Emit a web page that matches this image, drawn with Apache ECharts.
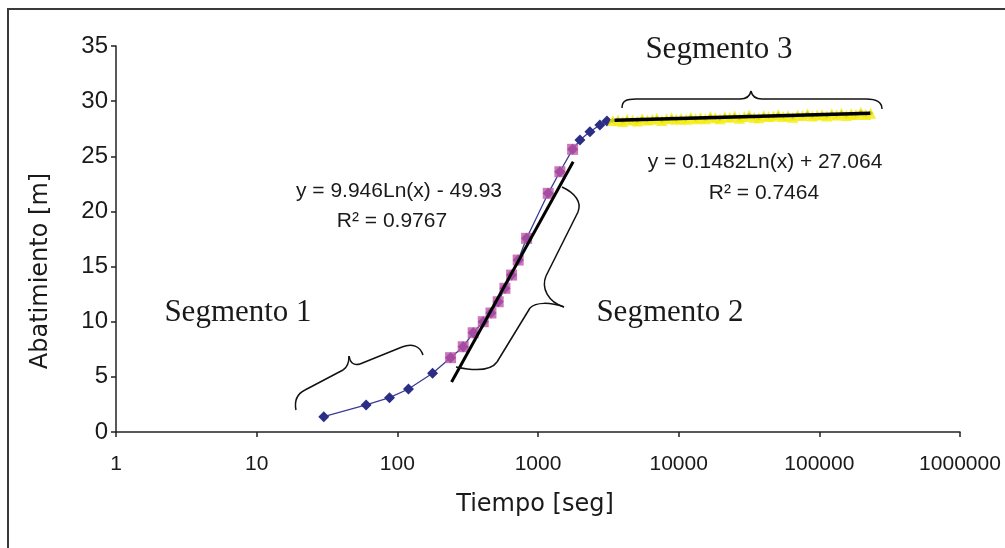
<!DOCTYPE html>
<html>
<head>
<meta charset="utf-8">
<script src="https://cdn.jsdelivr.net/npm/echarts@6/dist/echarts.min.js"></script>
<style>
html,body{margin:0;padding:0;background:#fff;}
#chart{width:1005px;height:548px;}
</style>
</head>
<body>
<div id="chart"></div>
<script>
// ---- data ----
const xTickLabels = ['1','10','100','1000','10000','100000','1000000'];
const yTickLabels = ['0','5','10','15','20','25','30','35'];

// Segment 1 (blue diamonds)
const seg1Time = [30, 60, 88, 120, 178];
const seg1Draw = [1.39, 2.45, 3.11, 3.9, 5.32];

// Segment 2 (pink squares)
const seg2Time = [239, 294, 346, 408, 463, 521, 582, 649, 723, 830, 1182, 1431, 1762];
const seg2Draw = [6.74, 7.73, 9.0, 10.0, 10.79, 11.81, 13.03, 14.23, 15.59, 17.56, 21.64, 23.6, 25.63];

// Transition (blue diamonds between segments 2 and 3)
const transTime = [1986, 2339, 2754, 3090];
const transDraw = [26.47, 27.23, 27.83, 28.2];

// Segment 3 (yellow triangles)
const seg3Time = [3400, 3700, 4000, 4300, 4700, 5100, 5500, 6000, 6500, 7000, 7600, 8200, 8900, 9600,
  10400, 11300, 12200, 13200, 14300, 15500, 16800, 18200, 19700, 21300, 23100, 25000, 27100, 29300,
  31700, 34400, 37200, 40300, 43600, 47200, 51100, 55300, 59900, 64800, 70200, 76000, 82300, 89100,
  96500, 104500, 113100, 122500, 132600, 143600, 155500, 168400, 182300, 197400, 213700, 231400];
const seg3Draw = [28.25, 28.3, 28.15, 28.35, 28.3, 28.2, 28.4, 28.3, 28.35, 28.45, 28.25, 28.4, 28.5, 28.35,
  28.45, 28.35, 28.55, 28.4, 28.5, 28.4, 28.6, 28.5, 28.4, 28.6, 28.55, 28.65, 28.45, 28.6,
  28.75, 28.55, 28.5, 28.7, 28.6, 28.65, 28.8, 28.6, 28.7, 28.55, 28.75, 28.7, 28.85, 28.65,
  28.75, 28.8, 28.65, 28.85, 28.75, 28.9, 28.7, 28.85, 28.8, 29.0, 28.8, 28.9];

// Trend line end points (as drawn in the reference)
const trend2Time = [243, 1778];
const trend2Draw = [4.53, 24.5];
const trend3Time = [3500, 230000];
const trend3Draw = [28.27, 28.9];

const eq2Text = 'y = 9.946Ln(x) - 49.93';
const r2Text2 = 'R² = 0.9767';
const eq3Text = 'y = 0.1482Ln(x) + 27.064';
const r2Text3 = 'R² = 0.7464';
const segLabels = ['Segmento 1', 'Segmento 2', 'Segmento 3'];

// ---- build ----
const zip = (a, b) => a.map((v, i) => [v, b[i]]);
const blueAll = zip(seg1Time, seg1Draw)
  .concat(zip(seg2Time, seg2Draw))
  .concat(zip(transTime, transDraw))
  .concat(zip(seg3Time, seg3Draw).map(p => ({value: p, symbolSize: 5})));

const sans = "'Liberation Sans', Arial, sans-serif";
const serif = "'Liberation Serif', 'Times New Roman', serif";
const verd = "'DejaVu Sans', Verdana, sans-serif";

// brace annotation drawing (decorative, pixel space)
function brace(segs) {
  const st = {stroke: '#111', lineWidth: 1.5, fill: 'none'};
  return segs.map(s => s.length === 4
    ? {type: 'line', shape: {x1: s[0], y1: s[1], x2: s[2], y2: s[3]}, style: st, z: 10, silent: true}
    : {type: 'bezierCurve', shape: {x1: s[0], y1: s[1], cpx1: s[2], cpy1: s[3], cpx2: s[4], cpy2: s[5], x2: s[6], y2: s[7]}, style: st, z: 10, silent: true});
}
const brace1 = brace([
  [296,410, 294,400, 297,394, 305,390], [305,390, 343,370], [343,370, 348,367, 349,362, 349,356],
  [349,356, 350,362, 353,366, 360,364], [360,364, 402,347], [402,347, 412,343, 420,346, 423,355]
]);
const brace2 = brace([
  [562,187, 575,193, 582,202, 578,212], [578,212, 546,276], [546,276, 541,288, 548,302, 564,307],
  [564,307, 550,302, 536,302, 530,308], [530,308, 497,362], [497,362, 490,372, 470,370, 456,367]
]);
const brace3 = brace([
  [622,108, 622,101, 626,99, 636,99], [636,99, 740,99], [740,99, 747,99, 750,96, 751,91],
  [751,91, 752,96, 755,99, 762,99], [762,99, 866,99], [866,99, 876,99, 882,102, 882,109]
]);

function txt(x, y, text, font, extra) {
  return Object.assign({type: 'text', x: x, y: y, z: 10, silent: true,
    style: {text: text, font: font, fill: '#1a1a1a', textAlign: 'center', textVerticalAlign: 'middle'}}, extra || {});
}

const chart = echarts.init(document.getElementById('chart'), null, {renderer: 'canvas'});
chart.setOption({
  animation: false,
  backgroundColor: '#fff',
  grid: {left: 116, right: 45, top: 46, bottom: 116, containLabel: false},
  xAxis: {
    type: 'log', logBase: 10, min: 1, max: 1000000, splitNumber: 6,
    axisLine: {onZero: false, lineStyle: {color: '#222', width: 1.5}},
    axisTick: {show: true, length: 5, inside: false, lineStyle: {color: '#222', width: 1.5}},
    axisLabel: {
      margin: 22, fontFamily: sans, fontSize: 21, color: '#1a1a1a',
      formatter: v => xTickLabels[Math.round(Math.log10(v))]
    },
    splitLine: {show: false}, minorTick: {show: false}
  },
  yAxis: {
    type: 'value', min: 0, max: 35, interval: 5,
    axisLine: {show: true, lineStyle: {color: '#222', width: 1.5}},
    axisTick: {show: true, length: 5, lineStyle: {color: '#222', width: 1.5}},
    axisLabel: {
      margin: 8, fontFamily: sans, fontSize: 24, color: '#1a1a1a',
      formatter: v => yTickLabels[Math.round(v / 5)]
    },
    splitLine: {show: false}
  },
  series: [
    {
      type: 'line', data: blueAll, symbol: 'diamond', symbolSize: 11, z: 2,
      itemStyle: {color: '#2B2E85'}, lineStyle: {color: '#3A3D97', width: 1.3}
    },
    {
      type: 'scatter', data: zip(seg2Time, seg2Draw), symbol: 'rect', symbolSize: 11, z: 3,
      itemStyle: {color: '#C055A8'}
    },
    {
      type: 'scatter', data: zip(seg3Time, seg3Draw), symbol: 'triangle', symbolSize: 11, z: 3,
      itemStyle: {color: '#F2EC08'}
    },
    {
      type: 'line', data: zip(trend2Time, trend2Draw), symbol: 'none', z: 4,
      lineStyle: {color: '#000', width: 3}
    },
    {
      type: 'line', data: zip(trend3Time, trend3Draw), symbol: 'none', z: 4,
      lineStyle: {color: '#000', width: 3.5}
    }
  ],
  graphic: [
    {type: 'rect', shape: {x: 8, y: 9, width: 1100, height: 700}, style: {fill: 'none', stroke: '#3a3a3a', lineWidth: 2}, silent: true, z: -10}
  ].concat(brace1, brace2, brace3, [
    txt(238, 313, segLabels[0], '31px ' + serif),
    txt(670, 313, segLabels[1], '31px ' + serif),
    txt(719, 50, segLabels[2], '31px ' + serif),
    txt(399, 191, eq2Text, '21px ' + sans),
    txt(392, 221, r2Text2, '21px ' + sans),
    txt(765, 162, eq3Text, '21px ' + sans),
    txt(764, 193, r2Text3, '21px ' + sans),
    txt(535, 505, 'Tiempo [seg]', '24px ' + verd),
    txt(41, 271, 'Abatimiento [m]', '24px ' + verd, {rotation: Math.PI / 2})
  ])
});
</script>
</body>
</html>
